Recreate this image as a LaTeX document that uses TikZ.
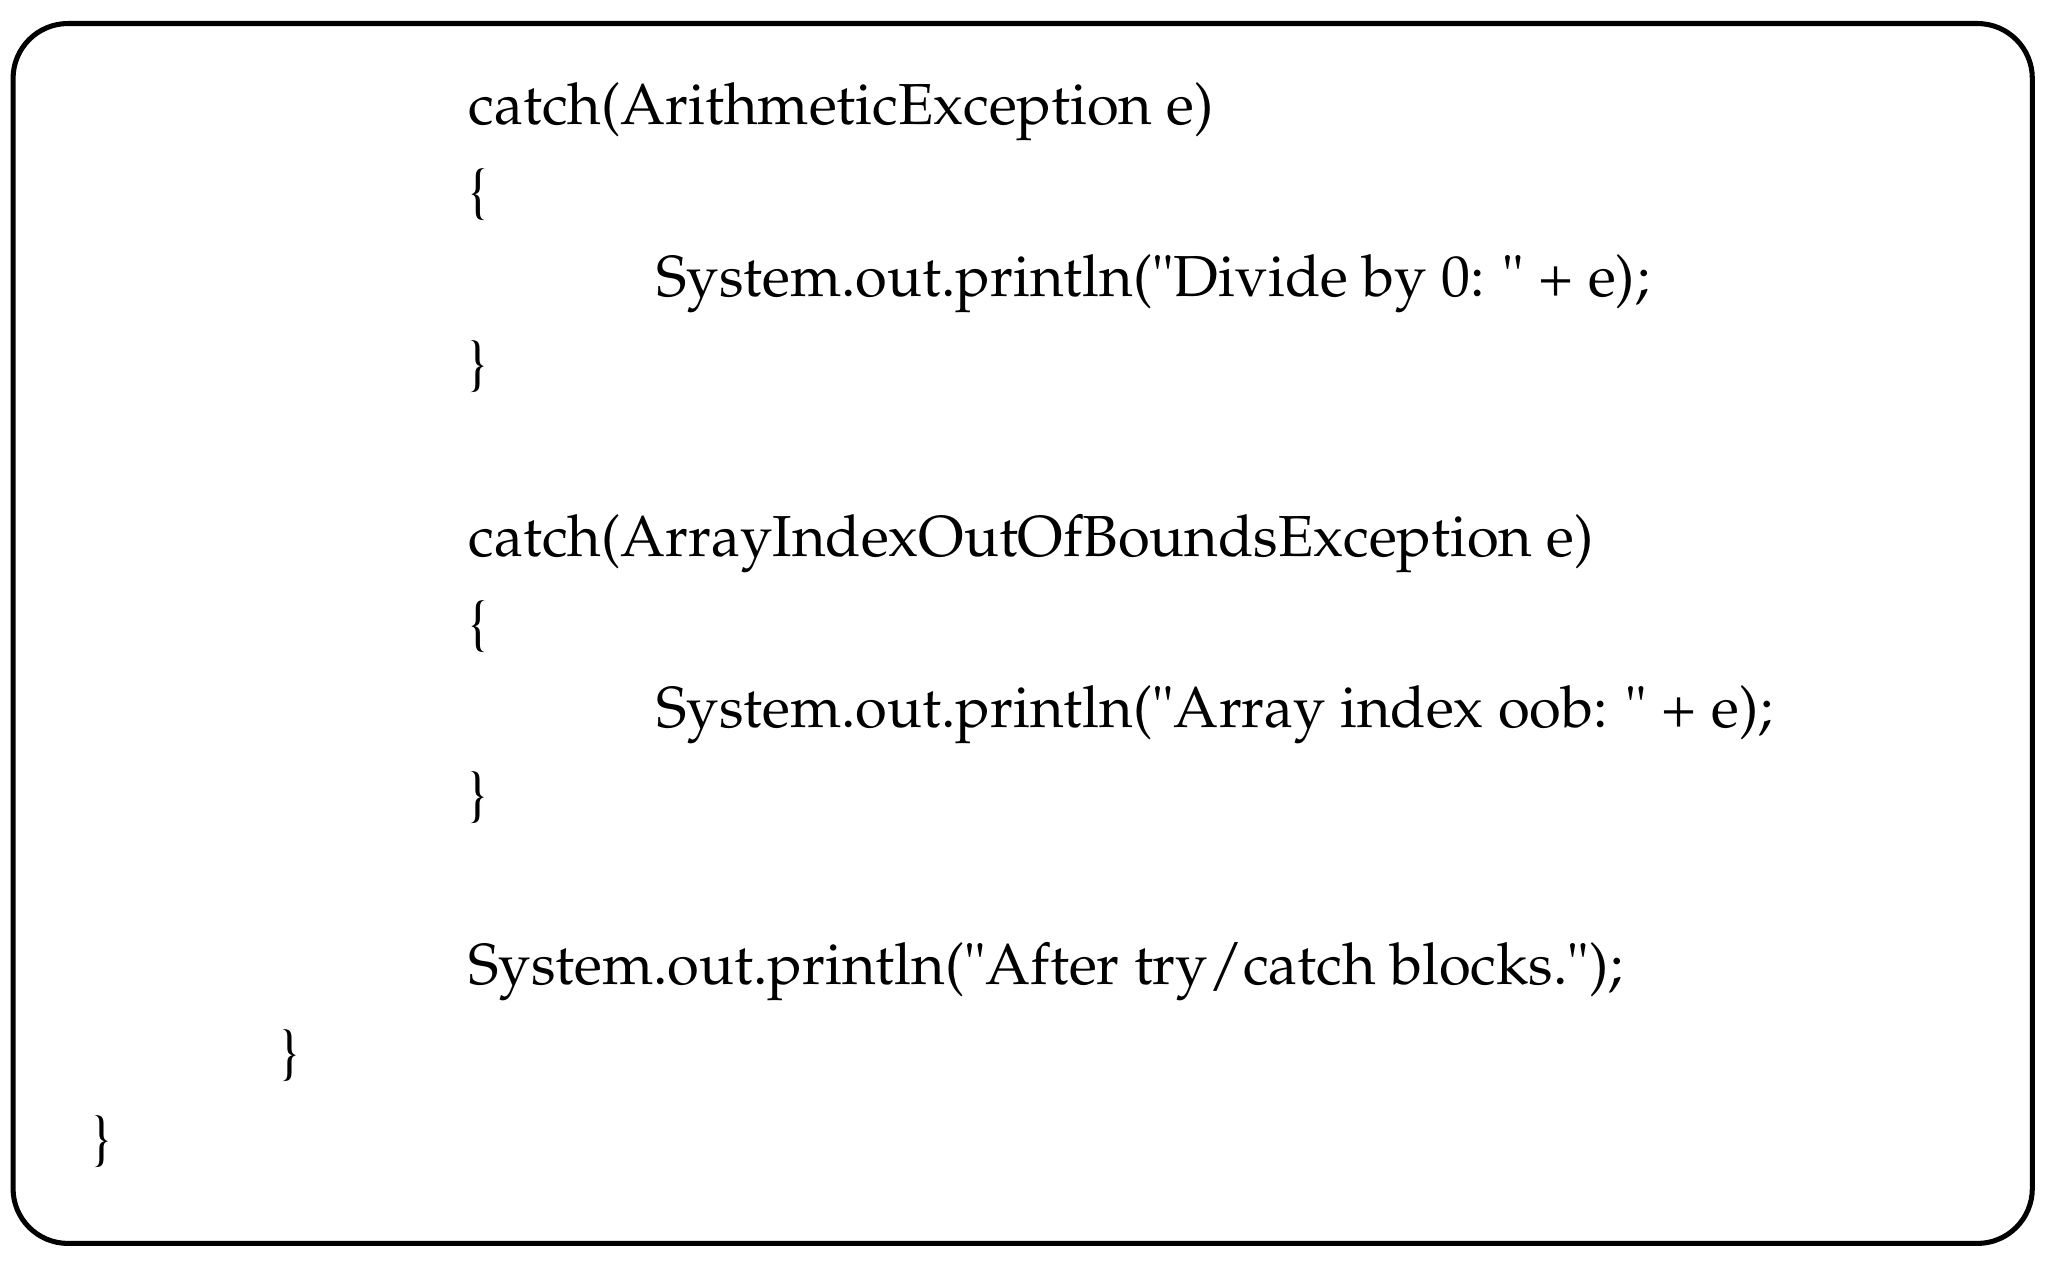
\documentclass[tikz,border=0pt]{standalone}
\usepackage[T1]{fontenc}
\usepackage{mathpazo}
\usepackage{tikz}
\begin{document}
\begin{tikzpicture} [x=0.01cm, y=-0.01cm,
    code/.style = {anchor=base west, inner sep=0pt, font=\fontsize{12.6}{15}\selectfont},
    ]
    \useasboundingbox (0,0) rectangle (1568,972);
    \draw[line width=1.1pt, rounded corners=0.42cm] (10,18) rectangle (1556,952);
    \node[code] at (358,95) (c1) {catch(ArithmeticException e)};
    \node[code] at (358,161) (o1) {\{};
    \node[code] at (502,227) (p1) {System.out.println(\textquotedbl Divide by 0: \textquotedbl\ + e);};
    \node[code] at (358,293) (e1) {\}};
    \node[code] at (358,426) (c2) {catch(ArrayIndexOutOfBoundsException e)};
    \node[code] at (358,492) (o2) {\{};
    \node[code] at (502,557) (p2) {System.out.println(\textquotedbl Array index oob: \textquotedbl\ + e);};
    \node[code] at (358,623) (e2) {\}};
    \node[code] at (358,754) (p3) {System.out.println(\textquotedbl After try/catch blocks.\textquotedbl);};
    \node[code] at (214,820) (e3) {\}};
    \node[code] at (70,886) (e4) {\}};
\end{tikzpicture}
\end{document}
